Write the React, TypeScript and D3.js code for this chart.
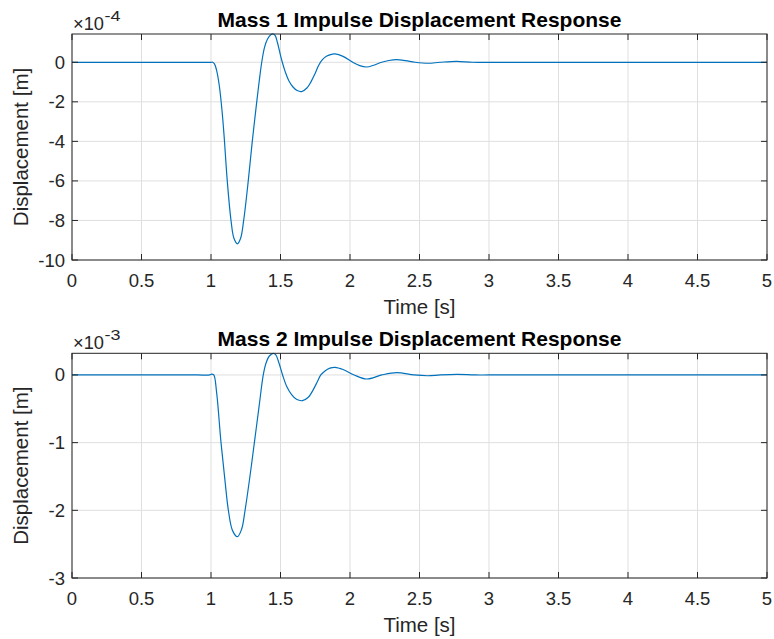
import React from "react";
import * as d3 from "d3";

// ---- data ----
const xTicks = [0, 0.5, 1, 1.5, 2, 2.5, 3, 3.5, 4, 4.5, 5];
const xTickLabels = ["0", "0.5", "1", "1.5", "2", "2.5", "3", "3.5", "4", "4.5", "5"];

const mass1Ticks = [0, -2, -4, -6, -8, -10];
const mass2Ticks = [0, -1, -2, -3];

// Mass 1 displacement, in units of 1e-4 m
const mass1Time = [
  0, 0.5, 0.9, 1.0, 1.012, 1.025, 1.04, 1.06, 1.08, 1.095, 1.117, 1.144, 1.165, 1.19, 1.213,
  1.235, 1.268, 1.297, 1.329, 1.347, 1.365, 1.385, 1.405, 1.428, 1.448, 1.462, 1.478, 1.495,
  1.513, 1.535, 1.56, 1.59, 1.62, 1.652, 1.69, 1.72, 1.75, 1.775, 1.80, 1.83, 1.86, 1.892,
  1.95, 2.02, 2.07, 2.12, 2.17, 2.228, 2.28, 2.336, 2.40, 2.468, 2.563, 2.647, 2.767, 2.88,
  3.0, 3.5, 4.0, 4.5, 5.0,
];
const mass1Disp = [
  0, 0, 0, 0, 0.0, -0.08, -0.4, -1.2, -2.5, -3.8, -6.0, -8.0, -8.9, -9.18, -8.9,
  -8.0, -6.0, -4.0, -2.0, -0.95, 0, 0.75, 1.15, 1.38, 1.43, 1.35, 1.0, 0.5,
  0, -0.5, -0.93, -1.25, -1.43, -1.48, -1.3, -0.98, -0.55, -0.15, 0.12, 0.3, 0.39, 0.42,
  0.3, 0, -0.17, -0.24, -0.15, 0, 0.09, 0.13, 0.08, 0, -0.05, 0, 0.05, 0,
  0, 0, 0, 0, 0,
];

// Mass 2 displacement, in units of 1e-3 m
const mass2Time = [
  0, 0.5, 0.9, 0.99, 1.005, 1.02, 1.04, 1.072, 1.10, 1.125, 1.155, 1.19, 1.22, 1.245, 1.28,
  1.312, 1.345, 1.376, 1.395, 1.42, 1.448, 1.465, 1.49, 1.515, 1.545, 1.58, 1.615, 1.657,
  1.70, 1.735, 1.765, 1.79, 1.82, 1.855, 1.892, 1.95, 2.03, 2.12, 2.228, 2.336, 2.46, 2.56,
  2.65, 2.77, 2.9, 3.0, 3.5, 4.0, 4.5, 5.0,
];
const mass2Disp = [
  0, 0, 0, 0, 0.012, 0.0, -0.25, -1.0, -1.55, -2.0, -2.3, -2.39, -2.28, -2.0, -1.5,
  -1.0, -0.48, 0, 0.17, 0.28, 0.32, 0.3, 0.17, 0, -0.17, -0.29, -0.36, -0.38,
  -0.33, -0.22, -0.1, 0, 0.06, 0.1, 0.113, 0.08, 0, -0.06, 0, 0.035, 0, -0.012,
  0, 0.008, 0, 0, 0, 0, 0, 0,
];

const FONT = "'Liberation Sans', Arial, Helvetica, sans-serif";
const AXIS = "#262626";
const GRID = "#dfdfdf";
const LINE = "#0072BD";

type PanelProps = {
  title: string;
  top: number;
  bottom: number;
  time: number[];
  disp: number[];
  yMin: number;
  yMax: number;
  yTicks: number[];
  exponent: string;
};

const LEFT = 72;
const RIGHT = 767;
const TICK = 6;

function Panel({ title, top, bottom, time, disp, yMin, yMax, yTicks, exponent }: PanelProps) {
  const x = d3.scaleLinear().domain([0, 5]).range([LEFT, RIGHT]);
  const y = d3.scaleLinear().domain([yMin, yMax]).range([bottom, top]);
  const pts = time.map((t, i) => [t, disp[i]] as [number, number]);
  const line = d3
    .line<[number, number]>()
    .x((d) => x(d[0]))
    .y((d) => y(d[1]))
    .curve(d3.curveCatmullRom.alpha(0.5));
  const clipId = "clip" + Math.round(top);
  return (
    <g>
      <defs>
        <clipPath id={clipId}>
          <rect x={LEFT} y={top - 1} width={RIGHT - LEFT} height={bottom - top + 2} />
        </clipPath>
      </defs>
      {/* grid */}
      {xTicks.map((t) => (
        <line key={"gx" + t} x1={x(t)} x2={x(t)} y1={top} y2={bottom} stroke={GRID} strokeWidth={1} />
      ))}
      {yTicks.map((t) => (
        <line key={"gy" + t} x1={LEFT} x2={RIGHT} y1={y(t)} y2={y(t)} stroke={GRID} strokeWidth={1} />
      ))}
      {/* data */}
      <path d={line(pts) || ""} fill="none" stroke={LINE} strokeWidth={1.2} clipPath={`url(#${clipId})`} />
      {/* box */}
      <rect x={LEFT} y={top} width={RIGHT - LEFT} height={bottom - top} fill="none" stroke={AXIS} strokeWidth={1} />
      {/* ticks */}
      {xTicks.map((t) => (
        <g key={"tx" + t}>
          <line x1={x(t)} x2={x(t)} y1={bottom} y2={bottom - TICK} stroke={AXIS} strokeWidth={1} />
          <line x1={x(t)} x2={x(t)} y1={top} y2={top + TICK} stroke={AXIS} strokeWidth={1} />
        </g>
      ))}
      {yTicks.map((t) => (
        <g key={"ty" + t}>
          <line x1={LEFT} x2={LEFT + TICK} y1={y(t)} y2={y(t)} stroke={AXIS} strokeWidth={1} />
          <line x1={RIGHT} x2={RIGHT - TICK} y1={y(t)} y2={y(t)} stroke={AXIS} strokeWidth={1} />
        </g>
      ))}
      {/* tick labels */}
      {xTicks.map((t, i) => (
        <text key={"lx" + t} x={x(t)} y={bottom + 26.5} textAnchor="middle" fontSize={18.5} fill={AXIS} fontFamily={FONT}>
          {xTickLabels[i]}
        </text>
      ))}
      {yTicks.map((t) => (
        <text key={"ly" + t} x={LEFT - 7} y={y(t) + 6.5} textAnchor="end" fontSize={18.5} fill={AXIS} fontFamily={FONT}>
          {String(t)}
        </text>
      ))}
      {/* exponent */}
      <text x={LEFT + 1} y={top - 4} fontSize={18.5} fill={AXIS} fontFamily={FONT} textLength={31} lengthAdjust="spacingAndGlyphs">
        ×10
      </text>
      <text x={LEFT + 32.5} y={top - 13.5} fontSize={15} fill={AXIS} fontFamily={FONT} textLength={16} lengthAdjust="spacingAndGlyphs">
        {exponent}
      </text>
      {/* axis labels */}
      <text x={(LEFT + RIGHT) / 2} y={bottom + 54} textAnchor="middle" fontSize={20.5} fill={AXIS} fontFamily={FONT}>
        Time [s]
      </text>
      <text
        transform={`translate(${28},${(top + bottom) / 2}) rotate(-90)`}
        textAnchor="middle"
        fontSize={20.5}
        fill={AXIS}
        fontFamily={FONT}
      >
        Displacement [m]
      </text>
      {/* title */}
      <text x={(LEFT + RIGHT) / 2} y={top - 7.5} textAnchor="middle" fontSize={21} fontWeight="bold" fill="#000" fontFamily={FONT}>
        {title}
      </text>
    </g>
  );
}

export default function App() {
  return (
    <svg
      width={774}
      height={639}
      viewBox="0 0 774 639"
      style={{ position: "absolute", left: 0, top: 0, background: "#fff" }}
    >
      <rect x={0} y={0} width={774} height={639} fill="#fff" />
      <Panel
        title="Mass 1 Impulse Displacement Response"
        top={34}
        bottom={260}
        time={mass1Time}
        disp={mass1Disp}
        yMin={-10}
        yMax={1.43}
        yTicks={mass1Ticks}
        exponent="-4"
      />
      <Panel
        title="Mass 2 Impulse Displacement Response"
        top={353.3}
        bottom={578}
        time={mass2Time}
        disp={mass2Disp}
        yMin={-3}
        yMax={0.32}
        yTicks={mass2Ticks}
        exponent="-3"
      />
    </svg>
  );
}
